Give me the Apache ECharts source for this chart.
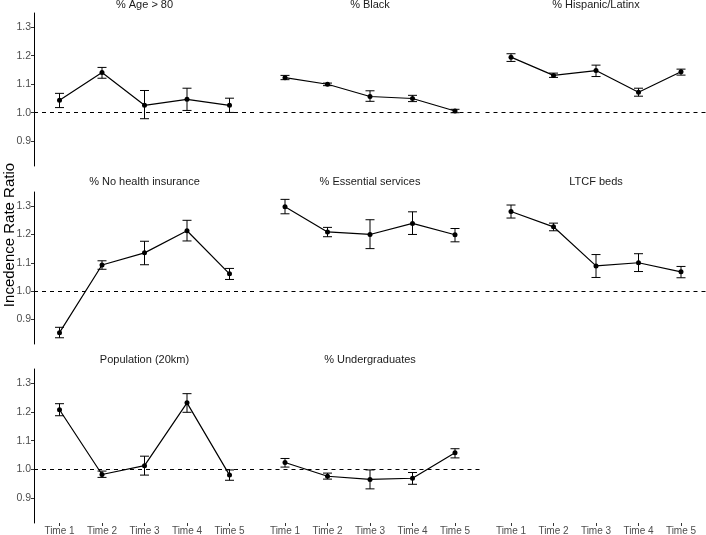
<!DOCTYPE html>
<html>
<head>
<meta charset="utf-8">
<script src="https://cdn.jsdelivr.net/npm/echarts@6/dist/echarts.min.js"></script>
<style>html,body{margin:0;padding:0;background:#fff}#c{width:706px;height:535px}</style>
</head>
<body>
<div id="c"></div>
<script>
const categories = ['Time 1', 'Time 2', 'Time 3', 'Time 4', 'Time 5'];
const yTicks = [0.9, 1.0, 1.1, 1.2, 1.3];
const panelTitles = ['% Age > 80', '% Black', '% Hispanic/Latinx', '% No health insurance', '% Essential services', 'LTCF beds', 'Population (20km)', '% Undergraduates'];

const ageEst = [1.044, 1.141, 1.026, 1.047, 1.026];
const ageLo  = [1.018, 1.121, 0.979, 1.008, 1.001];
const ageHi  = [1.068, 1.159, 1.078, 1.086, 1.051];

const blackEst = [1.123, 1.100, 1.057, 1.050, 1.006];
const blackLo  = [1.116, 1.095, 1.040, 1.039, 1.000];
const blackHi  = [1.131, 1.104, 1.077, 1.061, 1.012];

const hispEst = [1.195, 1.131, 1.148, 1.072, 1.144];
const hispLo  = [1.180, 1.124, 1.127, 1.058, 1.132];
const hispHi  = [1.207, 1.139, 1.167, 1.086, 1.153];

const insEst = [0.853, 1.092, 1.135, 1.213, 1.061];
const insLo  = [0.835, 1.077, 1.093, 1.177, 1.041];
const insHi  = [0.872, 1.107, 1.176, 1.250, 1.080];

const essEst = [1.298, 1.209, 1.200, 1.239, 1.199];
const essLo  = [1.273, 1.192, 1.150, 1.200, 1.174];
const essHi  = [1.324, 1.225, 1.252, 1.280, 1.221];

const ltcfEst = [1.281, 1.227, 1.089, 1.100, 1.068];
const ltcfLo  = [1.258, 1.213, 1.048, 1.069, 1.047];
const ltcfHi  = [1.304, 1.240, 1.129, 1.132, 1.087];

const popEst = [1.208, 0.982, 1.013, 1.232, 0.980];
const popLo  = [1.187, 0.972, 0.980, 1.199, 0.962];
const popHi  = [1.229, 0.994, 1.046, 1.264, 0.998];

const ugEst = [1.024, 0.976, 0.965, 0.969, 1.058];
const ugLo  = [1.008, 0.966, 0.932, 0.948, 1.040];
const ugHi  = [1.038, 0.987, 0.998, 0.989, 1.072];

const panels = [
  [ageEst, ageLo, ageHi], [blackEst, blackLo, blackHi], [hispEst, hispLo, hispHi],
  [insEst, insLo, insHi], [essEst, essLo, essHi], [ltcfEst, ltcfLo, ltcfHi],
  [popEst, popLo, popHi], [ugEst, ugLo, ugHi]
];

const FONT = '"Liberation Sans", Arial, Helvetica, sans-serif';
const colX = [34, 259.5, 485.5];
const colW = 221;
const rowY = [13, 192, 369];
const rowH = [153, 152, 154];
const Y_MIN = 0.813, Y_MAX = 1.35;

const grids = [], xAxes = [], yAxes = [], series = [], graphics = [];
for (let i = 0; i < 9; i++) {
  const r = Math.floor(i / 3), c = i % 3;
  grids.push({left: colX[c], top: rowY[r], width: colW, height: rowH[r], containLabel: false, outerBoundsMode: 'none'});
  const bottomRow = r === 2;
  xAxes.push({
    gridIndex: i, type: 'value', min: 0.4, max: 5.6,
    show: bottomRow,
    splitLine: {show: false},
    axisLine: {show: false},
    axisTick: {show: true, length: 3, lineStyle: {color: '#333', width: 1}, customValues: [1, 2, 3, 4, 5]},
    axisLabel: {show: true, customValues: [1, 2, 3, 4, 5], margin: 3, fontFamily: FONT, fontSize: 10, color: '#4d4d4d',
      formatter: v => categories[Math.round(v) - 1]}
  });
  const leftCol = c === 0;
  yAxes.push({
    gridIndex: i, type: 'value', min: Y_MIN, max: Y_MAX,
    show: leftCol,
    splitLine: {show: false},
    axisLine: {show: true, lineStyle: {color: '#000', width: 1}},
    axisTick: {show: true, length: 3, lineStyle: {color: '#333', width: 1}, customValues: yTicks},
    axisLabel: {show: true, customValues: yTicks, margin: 3, fontFamily: FONT, fontSize: 10.5, color: '#4d4d4d',
      formatter: v => v.toFixed(1)}
  });
}

panels.forEach((p, i) => {
  const [est, lo, hi] = p;
  series.push({
    type: 'custom', xAxisIndex: i, yAxisIndex: i,
    encode: {x: 0, y: [1, 2]},
    data: est.map((v, k) => [k + 1, lo[k], hi[k]]),
    renderItem: function (params, api) {
      const x = api.value(0);
      const top = api.coord([x, api.value(2)]);
      const bot = api.coord([x, api.value(1)]);
      const hw = 4.5;
      const st = {stroke: '#000', lineWidth: 1};
      return {type: 'group', children: [
        {type: 'line', shape: {x1: top[0], y1: top[1], x2: bot[0], y2: bot[1]}, style: st},
        {type: 'line', shape: {x1: top[0] - hw, y1: top[1], x2: top[0] + hw, y2: top[1]}, style: st},
        {type: 'line', shape: {x1: bot[0] - hw, y1: bot[1], x2: bot[0] + hw, y2: bot[1]}, style: st}
      ]};
    },
    silent: true, z: 3
  });
  series.push({
    type: 'line', xAxisIndex: i, yAxisIndex: i,
    data: est.map((v, k) => [k + 1, v]),
    symbol: 'circle', symbolSize: 5,
    itemStyle: {color: '#000'},
    lineStyle: {color: '#000', width: 1.2},
    silent: true, animation: false, z: 4,
    markLine: {
      silent: true, symbol: 'none', label: {show: false},
      lineStyle: {type: [4, 4], color: '#000', width: 1},
      data: [{yAxis: 1}], animation: false
    }
  });
  const r = Math.floor(i / 3), c = i % 3;
  const titleY = [5, 182, 360][r];
  graphics.push({type: 'text', x: colX[c] + colW / 2, y: titleY,
    style: {text: panelTitles[i], textAlign: 'center', textVerticalAlign: 'middle', font: '11px ' + FONT, fill: '#1a1a1a'}});
});

graphics.push({type: 'text', x: 10, y: 235, rotation: Math.PI / 2,
  style: {text: 'Incedence Rate Ratio', textAlign: 'center', textVerticalAlign: 'middle', font: '15px ' + FONT, fill: '#000'}});

const chart = echarts.init(document.getElementById('c'), null, {renderer: 'canvas'});
chart.setOption({
  animation: false,
  backgroundColor: '#fff',
  grid: grids, xAxis: xAxes, yAxis: yAxes, series: series, graphic: graphics
});
</script>
</body>
</html>
